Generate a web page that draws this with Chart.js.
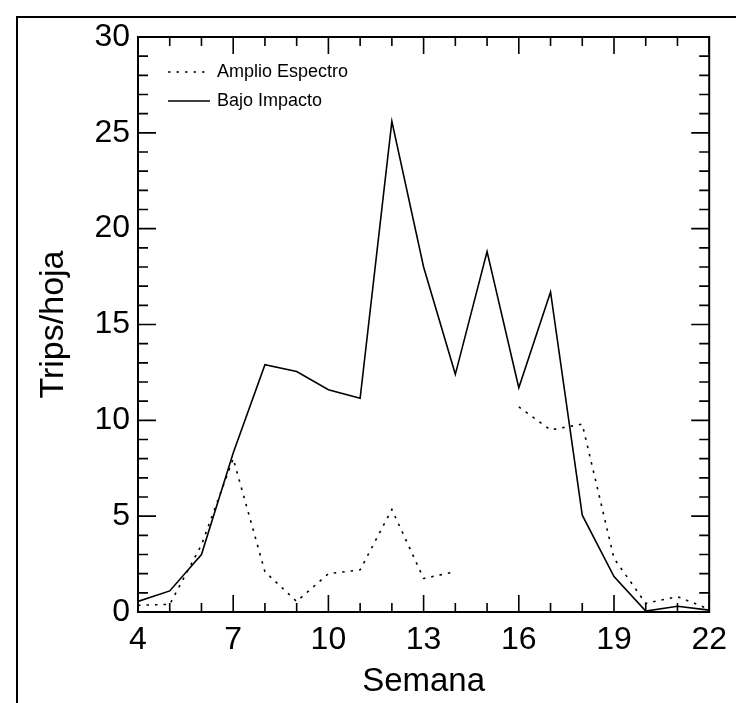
<!DOCTYPE html>
<html>
<head>
<meta charset="utf-8">
<script src="https://cdn.jsdelivr.net/npm/chart.js@4.4.1/dist/chart.umd.min.js"></script>
<style>
html,body{margin:0;padding:0;background:#fff;overflow:hidden;}
#wrap{position:absolute;left:0;top:0;width:736px;height:703px;}
</style>
</head>
<body>
<div id="wrap"><canvas id="c" width="736" height="703"></canvas></div>
<script>
const weeks = [4,5,6,7,8,9,10,11,12,13,14,15,16,17,18,19,20,21,22];
const amplioEspectro = [0.35,0.4,3.5,8.0,2.1,0.55,2.0,2.2,5.35,1.75,2.1,null,10.7,9.5,9.8,2.8,0.45,0.8,0.15];
const bajoImpacto = [0.55,1.1,3.0,8.3,12.9,12.55,11.6,11.15,25.6,18.0,12.4,18.8,11.7,16.7,5.05,1.85,0.05,0.3,0.1];
const xTickLabels = [4,7,10,13,16,19,22];
const yTickLabels = [0,5,10,15,20,25,30];
const seriesLabels = ['Amplio Espectro','Bajo Impacto'];
const xTitle = 'Semana';
const yTitle = 'Trips/hoja';

const FONT = 'Liberation Sans, Arial, sans-serif';

const decor = {
  id:'decor',
  beforeDraw(chart){
    const ctx = chart.ctx;
    ctx.save();
    ctx.fillStyle='#fff';
    ctx.fillRect(0,0,chart.width,chart.height);
    ctx.strokeStyle='#000';
    ctx.lineWidth=2;
    ctx.strokeRect(17,17,900,900);
    ctx.restore();
  },
  afterDraw(chart){
    const ctx = chart.ctx;
    const xs = chart.scales.x, ys = chart.scales.y;
    const a = chart.chartArea;
    ctx.save();
    ctx.strokeStyle='#000';
    ctx.lineWidth=2;
    ctx.strokeRect(a.left,a.top,a.right-a.left,a.bottom-a.top);
    ctx.lineWidth=1.6;
    ctx.beginPath();
    for(let v=xs.min; v<=xs.max; v++){
      const p = xs.getPixelForValue(v);
      const L = xTickLabels.includes(v) ? 17 : 9;
      ctx.moveTo(p,a.bottom); ctx.lineTo(p,a.bottom-L);
      ctx.moveTo(p,a.top); ctx.lineTo(p,a.top+L);
    }
    for(let v=ys.min; v<=ys.max; v++){
      const p = ys.getPixelForValue(v);
      const L = yTickLabels.includes(v) ? 18 : 10;
      ctx.moveTo(a.left,p); ctx.lineTo(a.left+L,p);
      ctx.moveTo(a.right,p); ctx.lineTo(a.right-L,p);
    }
    ctx.stroke();
    // legend
    ctx.font = '18px '+FONT;
    ctx.fillStyle='#000';
    ctx.textBaseline='middle';
    ctx.textAlign='left';
    const rows=[72,101];
    chart.data.datasets.forEach((ds,i)=>{
      const y=rows[i];
      ctx.beginPath();
      ctx.lineWidth=1.5;
      ctx.setLineDash(ds.borderDash||[]);
      ctx.moveTo(168,y); ctx.lineTo(210,y);
      ctx.stroke();
      ctx.setLineDash([]);
      ctx.fillText(ds.label,217,y);
    });
    ctx.restore();
  }
};

new Chart(document.getElementById('c'),{
  type:'line',
  data:{
    datasets:[
      {label:seriesLabels[0], data:weeks.map((w,i)=>({x:w,y:amplioEspectro[i]})), borderColor:'#000', borderWidth:1.6, borderDash:[2.5,6], pointRadius:0, fill:false, spanGaps:false, tension:0},
      {label:seriesLabels[1], data:weeks.map((w,i)=>({x:w,y:bajoImpacto[i]})), borderColor:'#000', borderWidth:1.6, pointRadius:0, fill:false, tension:0}
    ]
  },
  options:{
    responsive:false,
    animation:false,
    devicePixelRatio:1,
    layout:{padding:{top:37,right:23,left:0,bottom:0}},
    plugins:{legend:{display:false},tooltip:{enabled:false}},
    scales:{
      x:{
        type:'linear', min:4, max:22,
        afterBuildTicks(s){ s.ticks = xTickLabels.map(v=>({value:v})); },
        afterFit(s){ s.height = 91; },
        grid:{display:false,drawTicks:false},
        border:{display:false},
        ticks:{color:'#000',font:{family:FONT,size:32},padding:9,maxRotation:0,autoSkip:false},
        title:{display:true,text:xTitle,color:'#000',font:{family:FONT,size:33},padding:{top:0,bottom:1}}
      },
      y:{
        type:'linear', min:0, max:30,
        afterBuildTicks(s){ s.ticks = yTickLabels.map(v=>({value:v})); },
        afterFit(s){ s.width = 138; },
        grid:{display:false,drawTicks:false},
        border:{display:false},
        ticks:{color:'#000',font:{family:FONT,size:32},padding:8,autoSkip:false},
        title:{display:true,text:yTitle,color:'#000',font:{family:FONT,size:34},padding:{top:33,bottom:0}}
      }
    }
  },
  plugins:[decor]
});
</script>
</body>
</html>
